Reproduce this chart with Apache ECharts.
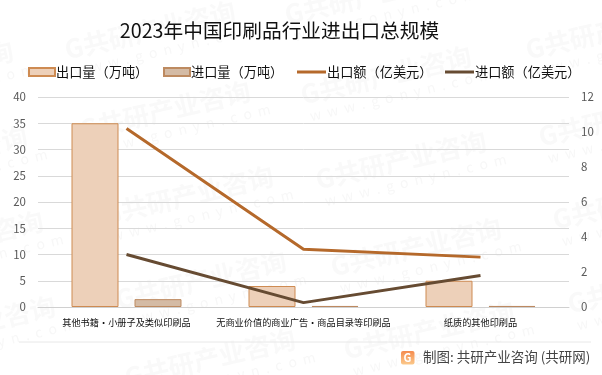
<!DOCTYPE html>
<html><head><meta charset="utf-8">
<style>html,body{margin:0;padding:0;background:#fff}#c{width:602px;height:375px}</style>
<script src="https://cdn.jsdelivr.net/npm/echarts@6/dist/echarts.min.js"></script>
</head><body><div id="c"></div>
<script>
const categories = ['其他书籍・小册子及类似印刷品','无商业价值的商业广告・商品目录等印刷品','纸质的其他印刷品'];
const exportVolume = [35, 4, 5];
const importVolume = [1.5, 0.2, 0.2];
const exportValue = [10.2, 3.3, 2.85];
const importValue = [3.0, 0.25, 1.8];
const seriesNames = ['出口量（万吨）','进口量（万吨）','出口额（亿美元）','进口额（亿美元）'];
const font = '"Noto Sans CJK SC","Noto Sans",sans-serif';

const marks = [[65,50],[80,130],[103,215],[116,300],[125,378],
  [-157,90],[-143,175],[-127,260],[-115,345],
  [285,15],[301,95],[316,180],[331,267],[344,350],
  [526,50],[539,137],[553,220],[568,304]];
const watermarks = [];
marks.forEach(([x,y])=>{
  watermarks.push({type:'text',x:x,y:y,rotation:0.23,silent:true,z:0,
    style:{text:'G共研产业咨询',font:'bold 26px '+font,fill:'rgba(90,90,90,0.04)',verticalAlign:'middle'}});
  watermarks.push({type:'text',x:x+9,y:y+21,rotation:0.23,silent:true,z:0,
    style:{text:'w  w  w  .  g  o  n  y  n  .  c  o  m',font:'14px '+font,fill:'rgba(90,90,90,0.05)',verticalAlign:'middle'}});
});

function legendAt(name,left,h){
  return {left:left,top:65,padding:0,itemWidth:h===3?29:26,itemHeight:h,icon:'rect',
    textStyle:{fontFamily:font,fontSize:13.2,lineHeight:14,color:'#111',padding:[0,0,0,-4]},
    data:[{name:name}]};
}

const chart = echarts.init(document.getElementById('c'),null,{renderer:'canvas'});
chart.setOption({
  animation:false,
  backgroundColor:'#fff',
  title:{text:'2023年中国印刷品行业进出口总规模',left:274.5,top:16,textAlign:'center',
    textStyle:{fontFamily:font,fontWeight:'normal',fontSize:19.7,color:'#111'}},
  legend:[legendAt(seriesNames[0],28,8),legendAt(seriesNames[1],163,8),
          legendAt(seriesNames[2],297,3),legendAt(seriesNames[3],445,3)],
  grid:{left:38,right:33,top:97,bottom:68},
  xAxis:{type:'category',data:categories,
    axisTick:{show:false},axisLine:{lineStyle:{color:'#d0d0d0'}},
    axisLabel:{interval:0,margin:11,fontFamily:font,fontSize:9.2,color:'#111'}},
  yAxis:[
    {type:'value',min:0,max:40,interval:5,
     axisLabel:{fontSize:11.5,color:'#595959',fontFamily:font,margin:12},
     axisLine:{show:false},axisTick:{show:false},
     splitLine:{lineStyle:{color:'#d9d9d9',width:1}}},
    {type:'value',min:0,max:12,interval:2,
     axisLabel:{fontSize:11.5,color:'#595959',fontFamily:font,margin:12},
     axisLine:{show:false},axisTick:{show:false},splitLine:{show:false}}
  ],
  series:[
    {name:seriesNames[0],type:'bar',data:exportVolume,barWidth:47,barGap:'34%',z:2,
     itemStyle:{color:'#EDD0B9',borderColor:'#CE8B52',borderWidth:1}},
    {name:seriesNames[1],type:'bar',data:importVolume,barWidth:47,z:2,
     itemStyle:{color:'#D4BBA5',borderColor:'#BD8A60',borderWidth:1}},
    {name:seriesNames[2],type:'line',yAxisIndex:1,data:exportValue,symbol:'none',z:3,
     lineStyle:{color:'#B5692B',width:3},itemStyle:{color:'#B5692B'}},
    {name:seriesNames[3],type:'line',yAxisIndex:1,data:importValue,symbol:'none',z:3,
     lineStyle:{color:'#664B32',width:3},itemStyle:{color:'#664B32'}}
  ],
  graphic:[...watermarks,
    {type:'line',silent:true,z:1,shape:{x1:19,y1:342,x2:591,y2:342},style:{stroke:'#e8e8e8',lineWidth:1}},
    {type:'rect',silent:true,z:5,shape:{x:401,y:351,width:13.5,height:13.5,r:2},
      style:{fill:new echarts.graphic.LinearGradient(0,0,0,1,[{offset:0,color:'#F58B4E'},{offset:1,color:'#FBC98B'}])}},
    {type:'text',silent:true,z:6,x:407.5,y:357.5,style:{text:'G',font:'bold 11px '+font,fill:'#fff',align:'center',verticalAlign:'middle'}},
    {type:'text',silent:true,z:5,x:423,y:357,style:{text:'制图: 共研产业咨询 (共研网)',font:'13.5px '+font,fill:'#444',verticalAlign:'middle'}}
  ]
});
</script></body></html>
